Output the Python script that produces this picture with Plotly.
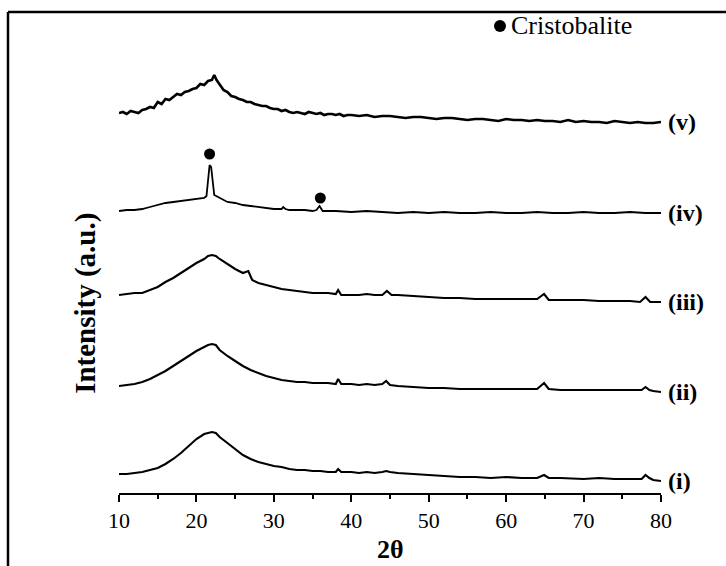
import plotly.graph_objects as go

# ---------------- data ----------------
# stacked intensity (a.u.) of each pattern vs 2-theta (degrees)
x_i = [10, 11, 12, 13, 14, 15, 16, 17, 18, 19, 20, 21, 21.5, 22, 22.5, 23, 24, 25, 26, 27, 28, 29, 30,
       31, 32, 33, 34, 35, 36, 37, 38, 38.3, 38.7, 40, 41, 42, 43, 44, 44.5, 45, 46, 48, 50, 52, 54,
       56, 58, 60, 62, 64, 64.9, 65.5, 67, 70, 72, 74, 76, 77.5, 78, 78.5, 79, 80]
y_i = [19, 19, 20, 21, 23, 25, 29, 34, 40, 47, 54, 59, 60, 61, 60, 56, 50, 44, 38, 34, 31, 29, 27,
       26, 24, 23, 23, 22, 22, 21, 21, 24, 21, 21, 20, 21, 20, 21, 22, 21, 20, 19, 18, 17, 16,
       16, 15, 16, 15, 15, 18, 15, 15, 14, 15, 14, 14, 14, 18, 15, 13, 12]

x_ii = [10, 11, 12, 13, 14, 15, 16, 17, 18, 19, 20, 21, 21.5, 22, 22.5, 23, 24, 25, 26, 27, 28, 29, 30,
        31, 32, 33, 34, 35, 36, 37, 38, 38.3, 38.7, 40, 41, 42, 43, 44, 44.5, 45, 46, 48, 50, 52, 54,
        56, 58, 60, 62, 64, 64.9, 65.5, 67, 70, 72, 74, 76, 77.5, 78, 78.5, 79, 80]
y_ii = [107, 108, 109, 111, 114, 118, 122, 127, 132, 137, 142, 146, 148, 149, 148, 143, 137, 132, 127, 123,
        120, 117, 115, 113, 112, 111, 111, 110, 110, 110, 109, 114, 109, 109, 108, 109, 108, 109, 112, 108,
        107, 106, 105, 105, 104, 104, 104, 104, 104, 104, 110, 104, 103, 103, 103, 103, 103, 103, 106, 103,
        102, 101]

x_iii = [10, 11, 12, 13, 14, 15, 16, 17, 18, 19, 20, 21, 21.5, 22, 22.5, 23, 24, 25, 26, 26.7, 27.2, 28,
         29, 30, 31, 32, 33, 34, 35, 36, 37, 38, 38.3, 38.7, 40, 41, 42, 43, 44, 44.6, 45.2, 46, 48, 50,
         52, 54, 56, 58, 60, 62, 64, 64.9, 65.5, 67, 70, 72, 74, 76, 77.3, 78, 78.6, 80]
y_iii = [198, 199, 200, 200, 203, 206, 211, 215, 220, 225, 230, 234, 237, 238, 237, 234, 229, 224, 220, 222,
         213, 210, 208, 206, 204, 203, 202, 201, 200, 200, 200, 199, 203, 198, 198, 198, 199, 198, 198, 202,
         198, 198, 197, 196, 195, 195, 194, 194, 194, 194, 194, 199, 193, 193, 193, 192, 192, 192, 191, 196,
         191, 191]

x_iv = [10, 11, 12, 13, 14, 15, 16, 17, 18, 19, 20, 21, 21.3, 21.5, 21.7, 21.9, 22.1, 22.3, 22.8, 23.5,
        24, 25, 26, 27, 28, 29, 30, 31, 31.2, 31.5, 32, 33, 34, 35, 35.5, 35.9, 36.3, 37, 38, 40, 42, 44,
        46, 48, 50, 52, 54, 56, 58, 60, 62, 64, 66, 68, 70, 72, 74, 76, 78, 80]
y_iv = [282, 283, 283, 284, 286, 288, 290, 291, 292, 293, 294, 295, 297, 310, 328, 326, 310, 298, 296, 293,
        291, 290, 288, 287, 286, 285, 284, 284, 286, 284, 283, 283, 283, 282, 283, 287, 282, 282, 282, 281,
        282, 281, 280, 281, 280, 281, 280, 280, 281, 280, 280, 281, 280, 280, 281, 280, 280, 281, 280, 280]

x_v = [10, 10.5, 11, 11.5, 12, 12.5, 13, 13.5, 14, 14.5, 15, 15.5, 16, 16.5, 17, 17.5, 18, 18.5, 19, 19.5,
       20, 20.5, 21, 21.5, 22, 22.3, 22.6, 23, 23.5, 24, 24.5, 25, 25.5, 26, 26.5, 27, 27.5, 28, 28.5, 29,
       29.5, 30, 30.5, 31, 31.5, 32, 32.5, 33, 33.5, 34, 34.5, 35, 35.5, 36, 36.5, 37, 37.5, 38, 38.5, 39,
       39.5, 40, 41, 42, 43, 44, 45, 46, 47, 48, 49, 50, 51, 52, 53, 54, 55, 56, 57, 58, 59, 60, 61, 62,
       63, 64, 65, 66, 67, 68, 69, 70, 71, 72, 73, 74, 75, 76, 77, 78, 79, 80]
y_v = [380, 381, 379, 382, 381, 380, 383, 384, 386, 385, 391, 389, 394, 393, 396, 399, 398, 401, 402, 404,
       405, 409, 408, 412, 413, 418, 413, 409, 403, 401, 397, 396, 394, 393, 391, 391, 389, 388, 387, 387,
       385, 384, 384, 382, 383, 381, 380, 381, 380, 379, 381, 380, 379, 380, 378, 379, 379, 378, 379, 377,
       378, 378, 377, 378, 376, 377, 377, 376, 375, 376, 376, 375, 374, 375, 375, 374, 373, 374, 374, 373,
       372, 374, 373, 373, 372, 373, 372, 372, 371, 373, 371, 372, 371, 371, 370, 372, 371, 370, 371, 370,
       370, 371]

pattern_labels = ["(i)", "(ii)", "(iii)", "(iv)", "(v)"]

# cristobalite reflections marked on pattern (iv)
cristobalite_x = [21.7, 36.0]
cristobalite_y = [339, 295]

tick_vals = [10, 20, 30, 40, 50, 60, 70, 80]

# ---------------- figure ----------------
FONT = "Liberation Serif"
fig = go.Figure()

series = [(x_i, y_i), (x_ii, y_ii), (x_iii, y_iii), (x_iv, y_iv), (x_v, y_v)]
widths = [2.1, 2.1, 2.1, 1.8, 2.6]
for (xs, ys), lab, w in zip(series, pattern_labels, widths):
    fig.add_trace(go.Scatter(x=xs, y=ys, mode="lines",
                             line=dict(color="black", width=w),
                             name=lab, showlegend=False, hoverinfo="skip"))
    fig.add_annotation(x=1.01, xref="paper", y=ys[-1], yref="y", text="<b>%s</b>" % lab,
                       showarrow=False, xanchor="left", yanchor="middle",
                       font=dict(family=FONT, size=24, color="black"))

fig.add_trace(go.Scatter(x=cristobalite_x, y=cristobalite_y, mode="markers",
                         marker=dict(color="black", size=11), name="Cristobalite",
                         showlegend=False, hoverinfo="skip"))

# legend-like key: ● Cristobalite
fig.add_shape(type="circle", xref="paper", yref="paper",
              x0=0.6919, x1=0.7140, y0=0.9584, y1=0.9834,
              fillcolor="black", line=dict(color="black", width=0))
fig.add_annotation(x=0.719, xref="paper", y=0.971, yref="paper", text="Cristobalite",
                   showarrow=False, xanchor="left", yanchor="middle",
                   font=dict(family=FONT, size=26, color="black"))

# axis titles
fig.add_annotation(x=-0.063, xref="paper", y=0.395, yref="paper", text="<b>Intensity (a.u.)</b>",
                   textangle=-90, showarrow=False, xanchor="center", yanchor="middle",
                   font=dict(family=FONT, size=29, color="black"))
fig.add_annotation(x=0.5, xref="paper", y=-0.118, yref="paper", text="<b>2θ</b>",
                   showarrow=False, xanchor="center", yanchor="middle",
                   font=dict(family=FONT, size=26, color="black"))

# outer frame (left and top edges only)
fig.add_shape(type="line", xref="paper", yref="paper", x0=-0.2048, x1=-0.2048, y0=1.0, y1=-0.2,
              line=dict(color="black", width=2.5))
fig.add_shape(type="line", xref="paper", yref="paper", x0=-0.2048, x1=1.2, y0=1.0, y1=1.0,
              line=dict(color="black", width=2.5))

fig.update_xaxes(range=[10, 80], tickvals=tick_vals, ticks="outside", ticklen=7, tickwidth=1.5,
                 tickcolor="black", showline=True, linecolor="black", linewidth=1.5,
                 showgrid=False, zeroline=False,
                 tickfont=dict(family=FONT, size=22, color="black"),
                 minor=dict(dtick=5, tick0=10, ticks="outside", ticklen=4, tickwidth=1.5,
                            tickcolor="black", showgrid=False))
fig.update_yaxes(range=[0, 481], visible=False, showgrid=False, zeroline=False)

fig.update_layout(width=726, height=566, margin=dict(l=119, r=65, t=12, b=73),
                  font=dict(family=FONT, color="black"),
                  paper_bgcolor="white", plot_bgcolor="white", showlegend=False)

fig.write_html("out.html")
